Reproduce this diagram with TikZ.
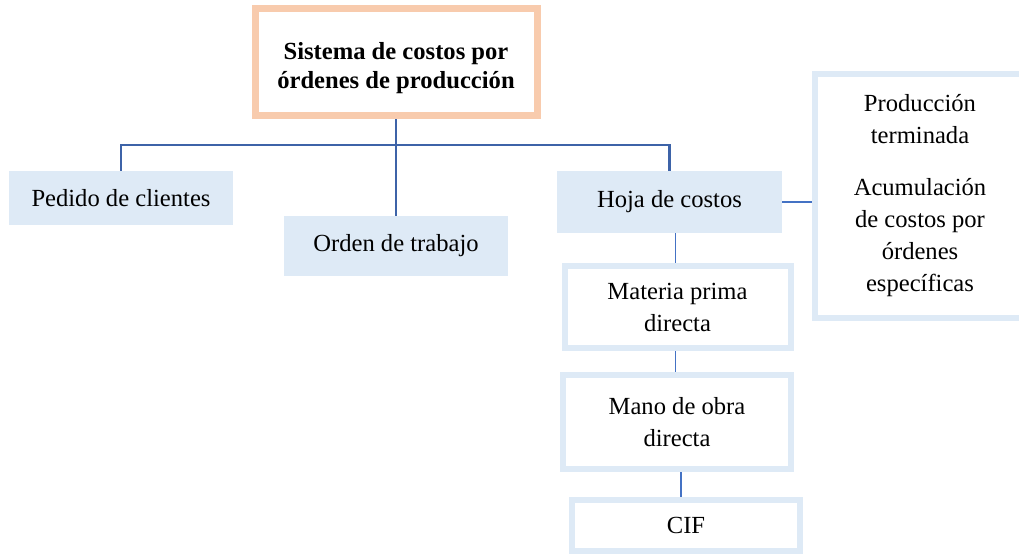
\documentclass[tikz,border=0pt]{standalone}
\usepackage{fontspec}
\setmainfont{Liberation Serif}
\usetikzlibrary{backgrounds}
\definecolor{boxblue}{HTML}{DEEAF6}
\definecolor{framblue}{HTML}{DEEAF6}
\definecolor{orangeb}{HTML}{F8CBAD}
\definecolor{lineblue}{HTML}{3D63A8}
\definecolor{thinblue}{HTML}{4472C4}
\tikzset{
  txt/.style={font=\fontsize{24.6}{32}\selectfont, align=center, inner sep=0pt, text=black},
  filled/.style={txt, fill=boxblue},
  framed/.style={txt, draw=framblue, line width=6pt},
  titlebox/.style={txt, draw=orangeb, line width=7pt, font=\bfseries\fontsize{24.6}{30}\selectfont},
  main/.style={draw=lineblue, line width=2.4pt},
  thin/.style={draw=thinblue, line width=1.3pt}
}
\begin{document}
\begin{tikzpicture}[x=1pt,y=-1pt]
\useasboundingbox (0,0) rectangle (1019,556);
\clip (0,0) rectangle (1019,556);
\node[titlebox, minimum width=282pt, minimum height=107.5pt] (title) at (396,62.25) {\raisebox{-6pt}[\height][\depth]{\begin{tabular}{@{}c@{}}Sistema de costos por\\[-1.5pt]órdenes de producción\end{tabular}}};
\node[filled, minimum width=224pt, minimum height=54pt] (pedido) at (121,198) {Pedido de clientes};
\node[filled, minimum width=224pt, minimum height=60pt] (orden) at (396,246) {Orden de trabajo};
\node[filled, minimum width=225pt, minimum height=62pt] (hoja) at (669.5,202) {Hoja de costos};
\node[framed, minimum width=210pt, minimum height=244pt] (right) at (920,196) {Producción\\terminada\\[20pt]Acumulación\\de costos por\\órdenes\\específicas};
\node[framed, minimum width=226pt, minimum height=82pt] (materia) at (677.5,307) {Materia prima\\directa};
\node[framed, minimum width=228pt, minimum height=94pt] (mano) at (677,422) {Mano de obra\\directa};
\node[framed, minimum width=228pt, minimum height=51pt] (cif) at (686,525) {CIF};
\coordinate (bar) at (396,145);
\begin{scope}[on background layer]
\draw[main] (title.south) -- (orden.north);
\draw[main] (pedido.north) |- (bar) -| (hoja.north);
\draw[thin] (hoja.east) -- (hoja.east -| right.west);
\draw[thin] ([xshift=-2pt]materia.north) -- ([xshift=-2pt]materia.north |- hoja.south);
\draw[thin] ([xshift=-2pt]materia.south) -- ([xshift=-2pt]materia.south |- mano.north);
\draw[thin] ([xshift=-5pt]cif.north) -- ([xshift=-5pt]cif.north |- mano.south);
\end{scope}
\end{tikzpicture}
\end{document}
